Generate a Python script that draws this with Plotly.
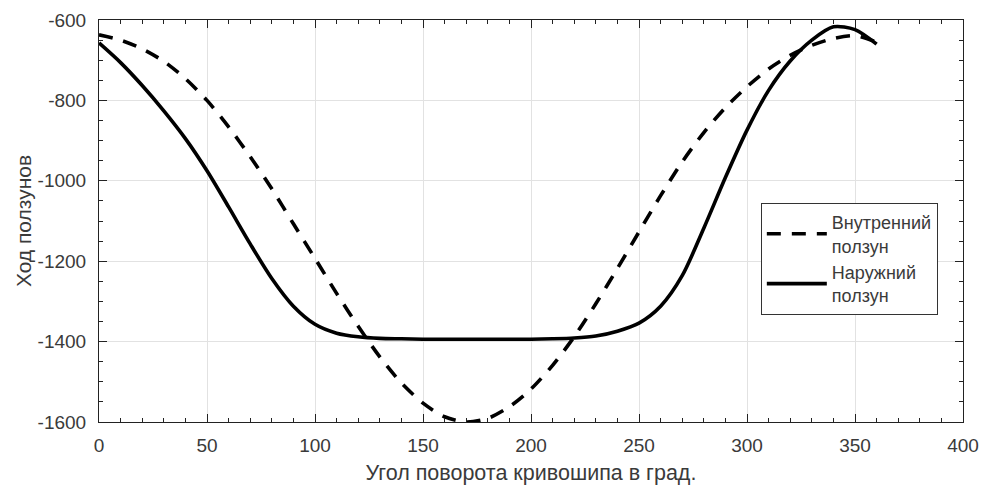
import plotly.graph_objects as go

# Crank angle, degrees
angle = [0, 10, 20, 30, 40, 50, 60, 70, 80, 90, 100, 110, 120, 130, 140, 150, 160, 170, 180,
         190, 200, 210, 220, 230, 240, 250, 260, 270, 280, 290, 300, 310, 320, 330, 340, 350, 360]

# Inner slider stroke
inner = [-637, -650, -672, -703, -746, -800, -866, -940, -1020, -1107, -1193, -1280, -1362, -1438,
         -1503, -1553, -1587, -1600, -1591, -1562, -1518, -1459, -1388, -1306, -1218, -1127, -1037,
         -953, -880, -818, -766, -722, -688, -663, -646, -639, -655]

# Outer slider stroke
outer = [-657, -706, -763, -826, -895, -975, -1065, -1157, -1243, -1312, -1357, -1379, -1388, -1392,
         -1393, -1394, -1394, -1394, -1394, -1394, -1394, -1393, -1391, -1386, -1374, -1354, -1312,
         -1236, -1118, -992, -874, -775, -702, -650, -617, -624, -660]

x_ticks = [0, 50, 100, 150, 200, 250, 300, 350, 400]
x_ticklabels = ["0", "50", "100", "150", "200", "250", "300", "350", "400"]
y_ticks = [-1600, -1400, -1200, -1000, -800, -600]
y_ticklabels = ["-1600", "-1400", "-1200", "-1000", "-800", "-600"]

name_inner = "Внутренний<br>ползун"
name_outer = "Наружний<br>ползун"
x_title = "Угол поворота кривошипа в град."
y_title = "Ход ползунов"

FONT = "Liberation Sans, Arial, sans-serif"
TXT = "#3a3a3a"

fig = go.Figure()
fig.add_trace(go.Scatter(x=angle, y=inner, mode="lines", name=name_inner,
                         line=dict(color="black", width=3.6, dash="14px,11px", shape="spline", smoothing=0.8)))
fig.add_trace(go.Scatter(x=angle, y=outer, mode="lines", name=name_outer,
                         line=dict(color="black", width=3.6, shape="spline", smoothing=0.8)))

axis_common = dict(
    showline=True, linecolor="#222", linewidth=1, mirror="ticks",
    ticks="inside", ticklen=8, tickwidth=1, tickcolor="#222",
    showgrid=True, gridcolor="#e2e2e2", gridwidth=1, zeroline=False,
    tickfont=dict(family=FONT, size=19, color=TXT), automargin=False,
)

fig.update_xaxes(range=[0, 400], tickmode="array", tickvals=x_ticks, ticktext=x_ticklabels,
                 minor=dict(dtick=10, tick0=0, ticklen=4, ticks="inside", tickcolor="#222", showgrid=False),
                 title=dict(text=x_title, font=dict(family=FONT, size=21.5, color=TXT), standoff=10),
                 ticklabelstandoff=6, **axis_common)
fig.update_yaxes(range=[-1600, -600], tickmode="array", tickvals=y_ticks, ticktext=y_ticklabels,
                 minor=dict(dtick=50, tick0=-1600, ticklen=4, ticks="inside", tickcolor="#222", showgrid=False),
                 title=dict(text=y_title, font=dict(family=FONT, size=21, color=TXT), standoff=0),
                 ticklabelstandoff=8, **axis_common)

fig.update_layout(
    width=981, height=487,
    margin=dict(l=99, r=18, t=20, b=65),
    paper_bgcolor="white", plot_bgcolor="white",
    showlegend=True,
    legend=dict(x=0.766, y=0.545, xanchor="left", yanchor="top",
                bgcolor="white", bordercolor="#333", borderwidth=1,
                font=dict(family=FONT, size=18, color=TXT),
                itemwidth=60, tracegroupgap=0),
)

fig.write_html("out.html", config={"displayModeBar": False},
               post_script="document.body.style.margin='0px';")
